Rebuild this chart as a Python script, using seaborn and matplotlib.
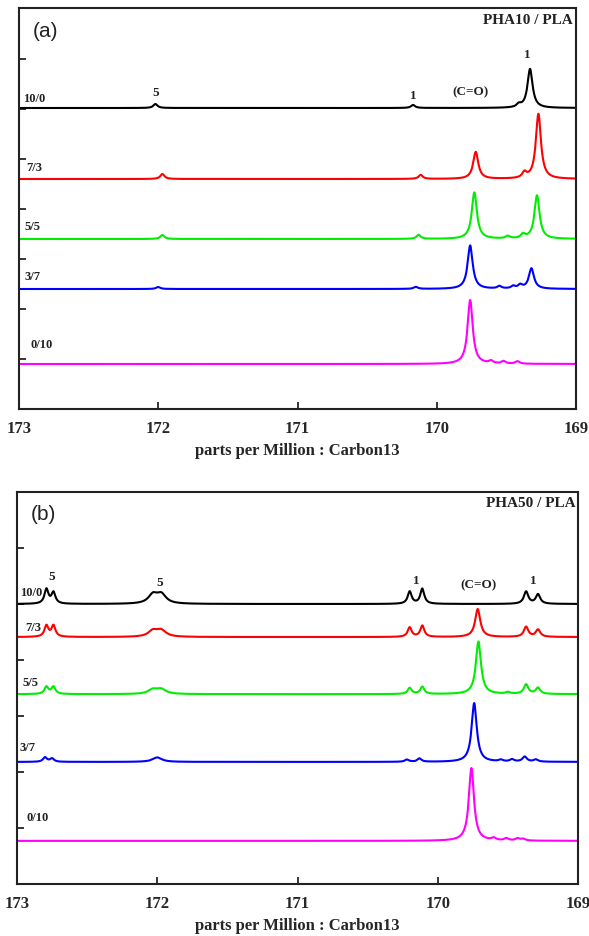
"""
Stacked 13C NMR carbonyl spectra of PHA/PLA blends
"""

import numpy as np
import pandas as pd
import matplotlib
matplotlib.use('Agg')
import matplotlib.pyplot as plt
import seaborn as sns

# blend ratios, top to bottom
blends = ['10/0', '7/3', '5/5', '3/7', '0/10']
line_colors = ['#000000', '#ff0000', '#00ee00', '#0000ff', '#ff00ff']

# ---- panel (a): PHA10 / PLA ----
# vertical offset of every trace (axis units)
offsets_a = [6.02, 4.6, 3.4, 2.4, 0.9]
# peak positions (ppm), heights and half widths
peaks_a_pos = [
    [172.02, 170.17, 169.41, 169.33],
    [171.97, 170.115, 169.72, 169.37, 169.27],
    [171.97, 170.13, 169.73, 169.49, 169.38, 169.28],
    [172.00, 170.15, 169.76, 169.55, 169.45, 169.40, 169.32],
    [169.76, 169.61, 169.52, 169.42],
]
peaks_a_height = [
    [0.08, 0.06, 0.06, 0.78],
    [0.10, 0.08, 0.54, 0.11, 1.30],
    [0.08, 0.08, 0.93, 0.05, 0.08, 0.87],
    [0.04, 0.04, 0.87, 0.05, 0.05, 0.07, 0.41],
    [1.28, 0.05, 0.05, 0.05],
]
peaks_a_width = [
    [0.018, 0.018, 0.018, 0.022],
    [0.018, 0.018, 0.022, 0.018, 0.022],
    [0.018, 0.018, 0.022, 0.018, 0.018, 0.022],
    [0.018, 0.018, 0.022, 0.018, 0.018, 0.018, 0.022],
    [0.022, 0.018, 0.018, 0.018],
]

# ---- panel (b): PHA50 / PLA ----
offsets_b = [5.0, 4.41, 3.39, 2.18, 0.77]
peaks_b_pos = [
    [172.79, 172.74, 172.03, 171.97, 170.20, 170.11, 169.37, 169.285],
    [172.79, 172.74, 172.03, 171.97, 170.20, 170.11, 169.715, 169.37, 169.285],
    [172.79, 172.74, 172.03, 171.97, 170.20, 170.11, 169.71, 169.50, 169.37, 169.285],
    [172.80, 172.75, 172.00, 170.22, 170.13, 169.74, 169.55, 169.47, 169.38, 169.30],
    [169.76, 169.60, 169.51, 169.43, 169.39],
]
peaks_b_height = [
    [0.26, 0.20, 0.16, 0.16, 0.22, 0.27, 0.22, 0.17],
    [0.20, 0.20, 0.11, 0.11, 0.17, 0.20, 0.50, 0.18, 0.13],
    [0.13, 0.13, 0.08, 0.08, 0.11, 0.13, 0.94, 0.03, 0.17, 0.11],
    [0.08, 0.06, 0.08, 0.04, 0.06, 1.05, 0.03, 0.04, 0.09, 0.04],
    [1.30, 0.04, 0.04, 0.04, 0.03],
]
peaks_b_width = [
    [0.017, 0.017, 0.04, 0.04, 0.017, 0.017, 0.019, 0.019],
    [0.017, 0.017, 0.04, 0.04, 0.017, 0.017, 0.022, 0.019, 0.019],
    [0.017, 0.017, 0.04, 0.04, 0.017, 0.017, 0.022, 0.018, 0.019, 0.019],
    [0.017, 0.017, 0.04, 0.017, 0.017, 0.022, 0.018, 0.018, 0.019, 0.019],
    [0.022, 0.018, 0.018, 0.018, 0.018],
]

x_ticks = [173, 172, 171, 170, 169]

# label positions (ppm, axis units)
labels_a = [(172.97, 6.22), (172.95, 4.84), (172.96, 3.66), (172.96, 2.66), (172.92, 1.30)]
labels_b = [(172.98, 5.21), (172.94, 4.59), (172.96, 3.61), (172.98, 2.45), (172.93, 1.20)]
notes_a = [('5', 172.02, 6.34), ('1', 170.17, 6.28), ('(C=O)', 169.76, 6.36), ('1', 169.35, 7.10)]
notes_b = [('5', 172.75, 5.50), ('5', 171.98, 5.39), ('1', 170.155, 5.43),
           ('(C=O)', 169.71, 5.36), ('1', 169.32, 5.43)]


def build_frame(offsets, positions, heights, widths):
    """
    Sum of lorentzian lines for each blend, shifted by its offset
    """
    ppm = np.linspace(169.0, 173.0, 3000)
    frames = []
    for i, blend in enumerate(blends):
        intensity = np.full_like(ppm, offsets[i])
        for p, h, w in zip(positions[i], heights[i], widths[i]):
            intensity += h / (1 + ((ppm - p) / w) ** 2)
        frames.append(pd.DataFrame({'ppm': ppm, 'intensity': intensity, 'blend': blend}))
    return pd.concat(frames)


def draw_panel(ax, df, ylim, yticks, labels, notes, title, letter):
    sns.lineplot(data=df, x='ppm', y='intensity', hue='blend', hue_order=blends,
                 palette=line_colors, estimator=None, sort=False, legend=False,
                 linewidth=1.5, ax=ax)
    ax.set_xlim(173, 169)
    ax.set_ylim(*ylim)
    ax.set_xticks(x_ticks)
    ax.set_xticklabels([str(t) for t in x_ticks], fontsize=12, fontweight='bold',
                       family='Liberation Serif')
    ax.set_yticks(yticks)
    ax.set_yticklabels([])
    ax.tick_params(axis='both', direction='in', length=5, width=1.3, top=False, right=False)
    ax.tick_params(axis='x', pad=8)
    for s in ax.spines.values():
        s.set_linewidth(1.5)
        s.set_color('#222222')
    ax.set_xlabel('parts per Million : Carbon13', fontsize=12, fontweight='bold',
                  family='Liberation Serif', labelpad=4)
    ax.set_ylabel('')

    for blend, (x, y) in zip(blends, labels):
        ax.text(x, y, blend, fontsize=9, fontweight='bold', family='Liberation Serif',
                ha='left', va='center', color='#222222')
    for txt, x, y in notes:
        ax.text(x, y, txt, fontsize=9.5, fontweight='bold', family='Liberation Serif',
                ha='center', va='center', color='#222222')
    ax.text(0.995, 0.972, title, transform=ax.transAxes, fontsize=11, fontweight='bold',
            family='Liberation Serif', ha='right', va='center', color='#222222')
    ax.text(0.025, 0.945, letter, transform=ax.transAxes, fontsize=15,
            family='Liberation Sans', ha='left', va='center', color='#222222')


sns.set_style('ticks')
plt.rcParams['font.family'] = ['Liberation Serif', 'DejaVu Sans']

fig = plt.figure(figsize=(5.89, 9.37), dpi=100)
ax_a = fig.add_axes([19 / 589, 1 - 410 / 937, 557 / 589, 401 / 937])
ax_b = fig.add_axes([17 / 589, 1 - 885 / 937, 561 / 589, 392 / 937])

df_a = build_frame(offsets_a, peaks_a_pos, peaks_a_height, peaks_a_width)
df_b = build_frame(offsets_b, peaks_b_pos, peaks_b_height, peaks_b_width)

draw_panel(ax_a, df_a, (0, 8.02), [1, 2, 3, 4, 5, 6, 7], labels_a, notes_a, 'PHA10 / PLA', '(a)')
draw_panel(ax_b, df_b, (0, 7.0), [1, 2, 3, 4, 5, 6], labels_b, notes_b, 'PHA50 / PLA', '(b)')

fig.savefig('out.png', dpi=100)
